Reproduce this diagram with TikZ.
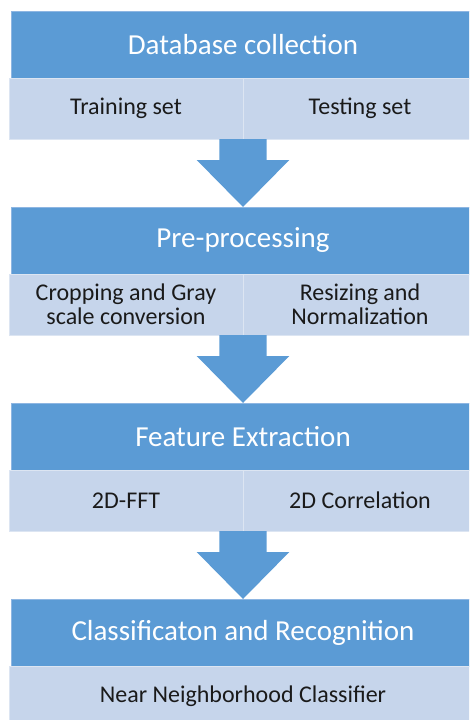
\documentclass[tikz,border=0pt]{standalone}
\usepackage{fontspec}
\setmainfont{Carlito}
\usetikzlibrary{positioning,calc}
\definecolor{headblue}{HTML}{5B9BD5}
\definecolor{headline}{HTML}{8EB6E2}
\definecolor{celllight}{HTML}{C6D5EB}
\definecolor{cellline}{HTML}{DCE5F2}
\definecolor{celltext}{HTML}{1A1A1A}
% block arrow from the cells of one stage down to the next header
\newcommand{\stagearrow}[2]{%
  \fill[headblue] ($(#1)+(-23.7,0)$) -- ($(#1)+(23.7,0)$) -- ($(#1)+(23.7,-21)$)
    -- ($(#1)+(46.3,-21)$) -- (#2) -- ($(#1)+(-46.3,-21)$) -- ($(#1)+(-23.7,-21)$) -- cycle;}
\begin{document}
\begin{tikzpicture}[x=1pt,y=1pt,
    every node/.style={inner sep=0pt,outer sep=0pt},
    header/.style={fill=headblue,draw=headline,line width=0.8pt,text=white,
      minimum width=464pt,minimum height=67pt,
      font=\fontsize{29}{35}\selectfont},
    cell/.style={fill=celllight,draw=cellline,line width=0.8pt,text=celltext,
      minimum width=234pt,minimum height=61pt,align=center,
      font=\fontsize{24}{24.5}\selectfont}]
  \clip (0,0) rectangle (469,-720);
  \useasboundingbox (0,0) rectangle (469,-720);
  % stage 1
  \node[header] (db) at (243,-44.5) {Database collection};
  \node[cell,anchor=north east] (train) at (db.south) {Training set};
  \node[cell,anchor=north west] (test) at (db.south) {Testing set};
  % stage 2
  \node[header,below=68pt of train.south east] (pre) {Pre-processing};
  \node[cell,anchor=north east] (crop) at (pre.south) {Cropping and Gray\\scale conversion};
  \node[cell,anchor=north west] (resize) at (pre.south) {Resizing and\\Normalization};
  % stage 3
  \node[header,below=68pt of crop.south east] (feat) {Feature Extraction};
  \node[cell,anchor=north east] (fft) at (feat.south) {2D-FFT};
  \node[cell,anchor=north west] (corr) at (feat.south) {2D Correlation};
  % stage 4
  \node[header,below=68pt of fft.south east] (cls) {Classificaton and Recognition};
  \node[cell,anchor=north,minimum width=468pt] (nnc) at (cls.south) {Near Neighborhood Classifier};
  \stagearrow{train.south east}{pre.north}
  \stagearrow{crop.south east}{feat.north}
  \stagearrow{fft.south east}{cls.north}
\end{tikzpicture}
\end{document}
